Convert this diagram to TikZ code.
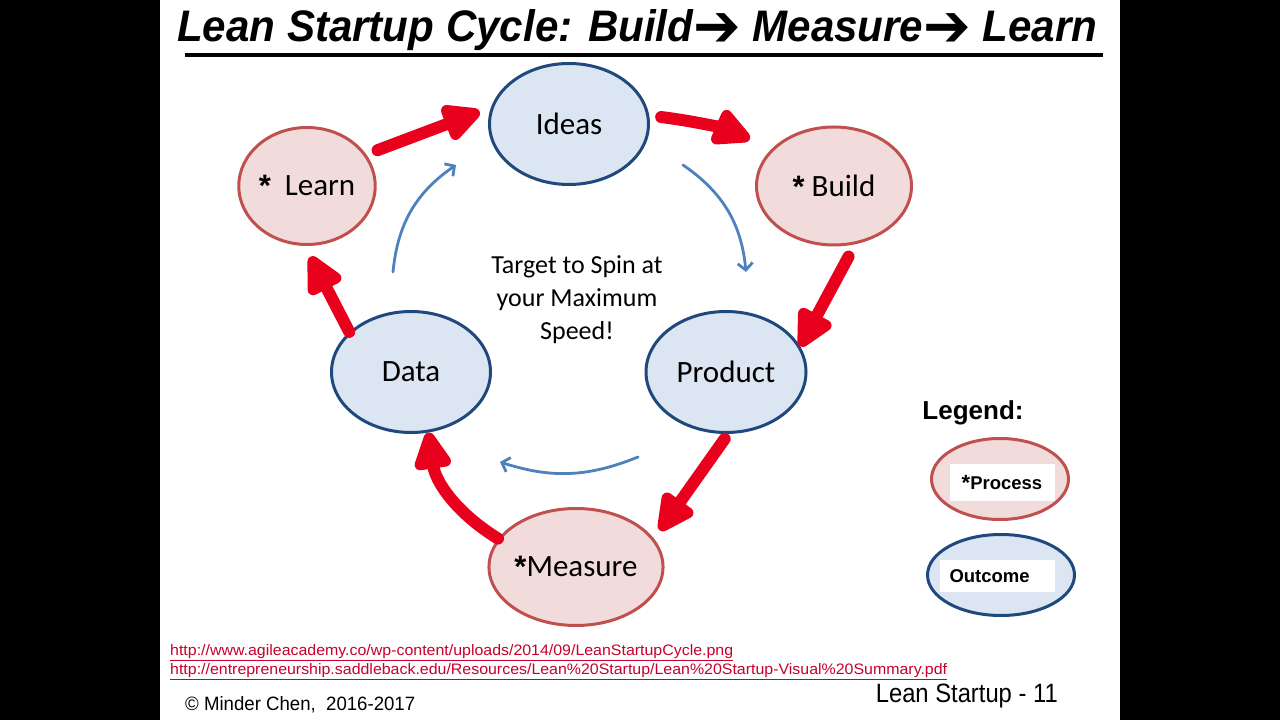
\documentclass[tikz,border=0pt]{standalone}
\usepackage{fontspec}
\setmainfont{Liberation Sans}
\newfontfamily\carlito{Carlito}
\newfontfamily\dejavu{DejaVu Sans}
\usetikzlibrary{arrows.meta,positioning,shapes.geometric}
\definecolor{procfill}{HTML}{F2DCDB}
\definecolor{procline}{HTML}{C0504D}
\definecolor{outfill}{HTML}{DCE6F2}
\definecolor{outcomeline}{HTML}{1F497D}
\definecolor{cyclered}{HTML}{E8001C}
\definecolor{cycleblue}{HTML}{4F81BD}
\definecolor{linkred}{HTML}{C8002A}
\newcommand{\procstar}{{\rmfamily\bfseries\raisebox{-1pt}{*}}}
\newcommand{\titlearrow}{\smash{\raisebox{-1.1pt}{\scalebox{1.35}{\dejavu ➔}}}}

\begin{document}
\begin{tikzpicture}[x=1pt,y=1pt,
  process/.style={ellipse, draw=procline, line width=3pt, fill=procfill, inner sep=0pt, font=\carlito\fontsize{31}{36}\selectfont},
  outcome/.style={ellipse, draw=outcomeline, line width=3pt, fill=outfill, inner sep=0pt, font=\carlito\fontsize{31}{36}\selectfont},
  legendbox/.style={fill=white, inner sep=0pt, font=\bfseries\fontsize{18.5}{22}\selectfont},
  redarrow/.style={draw=cyclered, line width=12pt, line cap=round, line join=round, -{Triangle[length=44pt,width=40pt,round]}},
  bluearrow/.style={draw=cycleblue, line width=2.8pt, line cap=round, -{Straight Barb[length=7pt,width=15pt]}}]
  \useasboundingbox (0,0) rectangle (1280,720);
  \fill[black] (0,0) rectangle (1280,720);
  \fill[white] (160,0) rectangle (1120,720);

  % Title and rule
  \node[anchor=base west, inner sep=0pt] (title) at (177,678) {\resizebox{920pt}{32pt}{\bfseries\itshape Lean Startup Cycle: Build\titlearrow\ Measure\titlearrow\ Learn}};
  \draw[line width=4pt] (185,665) -- (1103,665);

  % Outcomes
  \node[outcome, minimum width=159pt, minimum height=121pt] (ideas) at (569,596) {Ideas};
  \node[outcome, minimum width=159pt, minimum height=121pt] (data) at (411,348) {Data};
  \node[outcome, minimum width=160pt, minimum height=121pt] (product) at (726,348) {Product};

  % Processes
  \node[process, minimum width=133pt, minimum height=117pt] (learn) at (307,534) {\procstar\ \ Learn};
  \node[process, minimum width=155pt, minimum height=118pt] (build) at (834,534) {\procstar\ Build};
  \node[process, minimum width=169pt, minimum height=117pt] (measure) at (576,153) {\procstar Measure};

  % Centre text
  \node[align=center, font=\carlito\fontsize{26}{33}\selectfont] (target) at (577,420) {Target to Spin at\\your Maximum\\Speed!};

  % Red cycle arrows
  \draw[redarrow, shorten <=12pt, shorten >=12pt] (learn.28) -- (ideas.168);
  \draw[redarrow, shorten <=12pt, shorten >=24pt] (ideas.6) to[bend left=8] (build.149);
  \draw[redarrow, shorten <=14pt] (build.-70) -- (product.19);
  \draw[redarrow, shorten <=6pt, shorten >=10pt] (product.-88) -- (measure.20);
  \draw[redarrow] (measure.160) to[bend left=25] (data.-74);
  \draw[redarrow, shorten >=12pt] (data.147) -- (learn.-92);

  % Blue inner arrows
  \coordinate (bonea) at (393,448);
  \coordinate (boneb) at (456,555);
  \coordinate (btwoa) at (683,555);
  \coordinate (btwob) at (746,448);
  \coordinate (bthreea) at (638,263);
  \coordinate (bthreeb) at (500,258);
  \draw[bluearrow] (bonea) to[bend left=25] (boneb);
  \draw[bluearrow] (btwoa) to[bend left=25] (btwob);
  \draw[bluearrow] (bthreea) to[bend left=20] (bthreeb);

  % Legend
  \node[font=\bfseries\fontsize{26}{30}\selectfont] (legend) at (973,307) {Legend:};
  \node[ellipse, draw=procline, line width=3pt, fill=procfill, minimum width=137pt, minimum height=81pt] (legproc) at (1000,241) {};
  \node[legendbox, minimum width=105pt, minimum height=37pt] (procbox) at (1002,237) {\raisebox{-1pt}{\fontsize{22}{22}\selectfont *}Process};
  \node[ellipse, draw=outcomeline, line width=3pt, fill=outfill, minimum width=147pt, minimum height=81pt] (legout) at (1001,145) {};
  \node[legendbox, text width=95pt, minimum height=32pt, inner xsep=10pt, align=left] (outbox) at (997,144) {Outcome};

  % Sources and footer
  \node[anchor=base west, inner sep=0pt, text=linkred] (urlone) at (170,64) {\resizebox{563pt}{11pt}{\fontsize{14}{16}\selectfont\underline{http://www.agileacademy.co/wp-content/uploads/2014/09/LeanStartupCycle.png}}};
  \node[anchor=base west, inner sep=0pt, text=linkred] (urltwo) at (170,45) {\resizebox{777pt}{11pt}{\fontsize{14}{16}\selectfont\underline{http://entrepreneurship.saddleback.edu/Resources/Lean\%20Startup/Lean\%20Startup-Visual\%20Summary.pdf}}};
  \node[anchor=base west, inner sep=0pt] (author) at (185,9) {\resizebox{230pt}{14pt}{\copyright\ Minder Chen,\ \ 2016-2017}};
  \node[anchor=base east, inner sep=0pt] (slideno) at (1058,17) {\resizebox{182pt}{18.5pt}{Lean Startup - 11}};
\end{tikzpicture}
\end{document}
